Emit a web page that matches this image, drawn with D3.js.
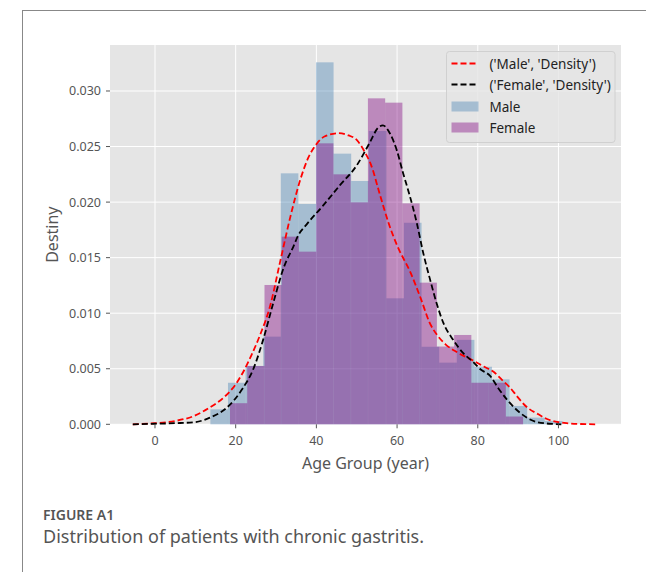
<html>
<head>
<script src="https://d3js.org/d3.v7.min.js"></script>
<style>
  body { margin: 0; background: #fff; }
  text { font-family: "Noto Sans", "Open Sans", sans-serif; }
  .grid line { stroke: #fff; stroke-width: 1; }
  .tick-label { fill: #555; font-size: 12.5px; }
</style>
</head>
<body>
<svg id="chart" width="646" height="572"></svg>
<script>
// histogram bins (age) and densities
const maleEdges = [13.73, 18.09, 22.45, 26.82, 31.18, 35.54, 39.90, 44.26, 48.63, 52.99, 57.35,
                   61.71, 66.07, 70.44, 74.80, 79.16, 83.52, 87.88, 92.25, 96.61, 100.97];
const maleDensity = [0.00135, 0.00374, 0.00525, 0.00789, 0.02259, 0.01983, 0.03258, 0.02436, 0.0219, 0.0264,
                     0.01134, 0.01814, 0.00698, 0.00555, 0.0076, 0.00518, 0.00405, 0.00165, 0.0006, 0.0003];
const femaleEdges = [18.59, 22.86, 27.14, 31.41, 35.68, 39.96, 44.23, 48.50, 52.77, 57.05,
                     61.32, 65.59, 69.87, 74.14, 78.41, 82.69, 86.96, 91.23];
const femaleDensity = [0.0019, 0.00525, 0.01254, 0.01689, 0.01554, 0.02529, 0.0225, 0.01998, 0.02934,
                       0.02895, 0.01989, 0.01275, 0.0070, 0.00804, 0.00374, 0.00374, 0.0007];

// kde curves
const maleKdeX = [-5.5, 0, 5, 10, 13.5, 17, 20, 22, 24, 26, 28.5, 31, 33.5, 36, 38, 40, 42, 45.5, 48, 50,
                  52, 53.5, 55.8, 58, 60, 63.4, 66, 68, 70, 72, 74.8, 78.5, 81.5, 84, 86, 88, 90, 92, 95,
                  97, 100, 102, 105, 109.5];
const maleKdeY = [0, 0.0001, 0.0003, 0.0008, 0.0015, 0.0024, 0.0036, 0.0048, 0.0063, 0.0080, 0.0106, 0.0146,
                  0.0186, 0.0220, 0.0240, 0.0252, 0.0259, 0.0262, 0.0260, 0.0256, 0.0245, 0.0234, 0.0206,
                  0.0180, 0.0161, 0.0136, 0.0112, 0.0092, 0.0080, 0.0072, 0.0065, 0.0058, 0.0052, 0.0047,
                  0.0040, 0.0033, 0.0024, 0.0016, 0.0009, 0.0005, 0.0002, 0.0001, 0.00003, 0];
const femaleKdeX = [-5.5, 0, 5, 10, 13.6, 17.8, 21.5, 24.4, 26.8, 29.3, 32, 34.3, 35.5, 37.6, 41.7, 45.8, 50,
                    53.3, 55.3, 56.5, 58.2, 59.9, 61.5, 63.2, 64.9, 66.5, 68.2, 69.8, 71.5, 73.9, 76.4, 78.9,
                    80.5, 83.2, 85, 87.3, 90.6, 94.7, 98.8, 100.7];
const femaleKdeY = [0, 0.00005, 0.0001, 0.0002, 0.0006, 0.0015, 0.0031, 0.0050, 0.0076, 0.0109, 0.0142, 0.0160,
                    0.0170, 0.0180, 0.0197, 0.0215, 0.0233, 0.0254, 0.0267, 0.0269, 0.0262, 0.0247, 0.0226,
                    0.0205, 0.0181, 0.0154, 0.0130, 0.0109, 0.0091, 0.0076, 0.0064, 0.0056, 0.0050, 0.0043,
                    0.0033, 0.0022, 0.0010, 0.0002, 0.00003, 0];

const xTicks = [0, 20, 40, 60, 80, 100];
const yTicks = [0, 0.005, 0.010, 0.015, 0.020, 0.025, 0.030];
const legendLabels = ["('Male', 'Density')", "('Female', 'Density')", "Male", "Female"];

const svg = d3.select("#chart");
const plot = {left: 110, right: 621, top: 45, bottom: 424.3};

const x = d3.scaleLinear().domain([-11.15, 115.5]).range([plot.left, plot.right]);
const y = d3.scaleLinear().domain([0, 0.03414]).range([plot.bottom, plot.top]);

// frame around figure
svg.append("line").attr("x1", 22).attr("x2", 646).attr("y1", 10.5).attr("y2", 10.5)
   .attr("stroke", "#888").attr("stroke-width", 1);
svg.append("line").attr("x1", 22.5).attr("x2", 22.5).attr("y1", 10).attr("y2", 572)
   .attr("stroke", "#888").attr("stroke-width", 1);

svg.append("rect")
   .attr("x", plot.left).attr("y", plot.top)
   .attr("width", plot.right - plot.left).attr("height", plot.bottom - plot.top)
   .attr("fill", "#E5E5E5");

const grid = svg.append("g").attr("class", "grid");
grid.selectAll("line.gx").data(xTicks).join("line").attr("class", "gx")
    .attr("x1", d => x(d)).attr("x2", d => x(d))
    .attr("y1", plot.top).attr("y2", plot.bottom);
grid.selectAll("line.gy").data(yTicks).join("line").attr("class", "gy")
    .attr("x1", plot.left).attr("x2", plot.right)
    .attr("y1", d => y(d)).attr("y2", d => y(d));

// histograms
function bins(edges, dens) {
    return dens.map((d, i) => ({x0: edges[i], x1: edges[i + 1], v: d}));
}
svg.append("g").selectAll("rect").data(bins(maleEdges, maleDensity)).join("rect")
   .attr("x", d => x(d.x0)).attr("width", d => x(d.x1) - x(d.x0))
   .attr("y", d => y(d.v)).attr("height", d => y(0) - y(d.v))
   .attr("fill", "steelblue").attr("fill-opacity", 0.4);
svg.append("g").selectAll("rect").data(bins(femaleEdges, femaleDensity)).join("rect")
   .attr("x", d => x(d.x0)).attr("width", d => x(d.x1) - x(d.x0))
   .attr("y", d => y(d.v)).attr("height", d => y(0) - y(d.v))
   .attr("fill", "purple").attr("fill-opacity", 0.4);

// kde lines
const line = d3.line().x(d => x(d[0])).y(d => y(d[1])).curve(d3.curveMonotoneX);
svg.append("path").datum(d3.zip(maleKdeX, maleKdeY))
   .attr("d", line).attr("fill", "none").attr("stroke", "red")
   .attr("stroke-width", 1.8).attr("stroke-dasharray", "6,3");
svg.append("path").datum(d3.zip(femaleKdeX, femaleKdeY))
   .attr("d", line).attr("fill", "none").attr("stroke", "black")
   .attr("stroke-width", 1.8).attr("stroke-dasharray", "6,3");

// axes ticks
const xAxis = svg.append("g");
xAxis.selectAll("line").data(xTicks).join("line")
     .attr("x1", d => x(d)).attr("x2", d => x(d))
     .attr("y1", plot.bottom).attr("y2", plot.bottom + 4)
     .attr("stroke", "#555");
xAxis.selectAll("text").data(xTicks).join("text")
     .attr("class", "tick-label")
     .attr("x", d => x(d)).attr("y", 444.5)
     .attr("text-anchor", "middle").text(d => d);

const yAxis = svg.append("g");
yAxis.selectAll("line").data(yTicks).join("line")
     .attr("x1", plot.left - 4).attr("x2", plot.left)
     .attr("y1", d => y(d)).attr("y2", d => y(d))
     .attr("stroke", "#555");
yAxis.selectAll("text").data(yTicks).join("text")
     .attr("class", "tick-label")
     .attr("x", plot.left - 9).attr("y", d => y(d) + 4.5)
     .attr("text-anchor", "end").text(d => d3.format(".3f")(d));

svg.append("text").attr("x", (plot.left + plot.right) / 2).attr("y", 468.5)
   .attr("text-anchor", "middle").attr("fill", "#555").attr("font-size", 16)
   .text("Age Group (year)");
svg.append("text").attr("transform", "translate(58," + ((plot.top + plot.bottom) / 2) + ") rotate(-90)")
   .attr("text-anchor", "middle").attr("fill", "#555").attr("font-size", 16)
   .text("Destiny");

// legend
const lg = svg.append("g").attr("transform", "translate(446.5,51.5)");
lg.append("rect").attr("width", 168.5).attr("height", 91).attr("rx", 3)
  .attr("fill", "#E5E5E5").attr("fill-opacity", 0.8).attr("stroke", "#d0d0d0");
const rowY = [12, 33, 55, 76];
const styles = [
    {type: "line", color: "red"},
    {type: "line", color: "black"},
    {type: "patch", color: "steelblue"},
    {type: "patch", color: "purple"}
];
legendLabels.forEach((lab, i) => {
    const s = styles[i];
    if (s.type === "line") {
        lg.append("line").attr("x1", 5).attr("x2", 32).attr("y1", rowY[i]).attr("y2", rowY[i])
          .attr("stroke", s.color).attr("stroke-width", 1.8).attr("stroke-dasharray", "6,3");
    } else {
        lg.append("rect").attr("x", 5).attr("y", rowY[i] - 5).attr("width", 27).attr("height", 10)
          .attr("fill", s.color).attr("fill-opacity", 0.4);
    }
    lg.append("text").attr("x", 43).attr("y", rowY[i] + 5)
      .attr("fill", "#222").attr("font-size", 13.5).text(lab);
});

// caption
svg.append("text").attr("x", 43).attr("y", 519.5).attr("fill", "#555")
   .attr("font-size", 14).attr("font-weight", 600).text("FIGURE A1");
svg.append("text").attr("x", 43).attr("y", 543).attr("fill", "#555")
   .attr("font-size", 18).text("Distribution of patients with chronic gastritis.");
</script>
</body>
</html>
